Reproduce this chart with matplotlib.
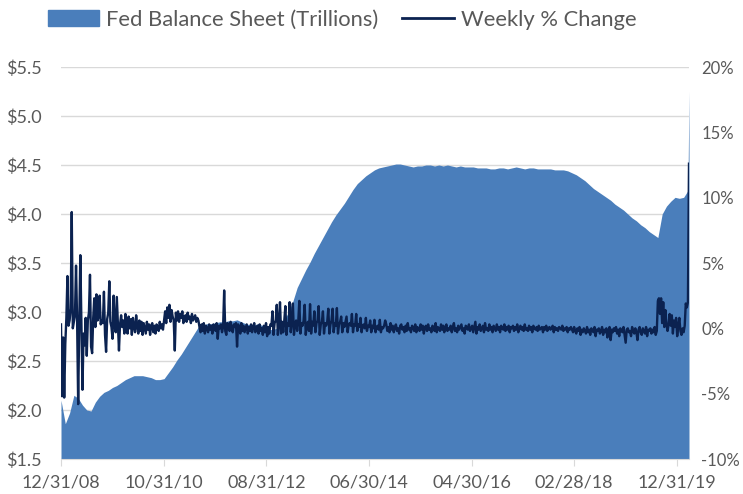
import matplotlib.pyplot as plt
import matplotlib.ticker as mtick
from matplotlib.patches import Patch
from matplotlib.lines import Line2D
import numpy as np
import pandas as pd

plt.rcParams['font.family'] = ['Lato', 'DejaVu Sans']

# Fed balance sheet, trillions, read every 4th week from 12/31/08, then the last week
balance = [2.10, 1.86, 1.97, 2.15, 2.12, 2.05, 2.00, 1.99, 2.08, 2.14, 2.18, 2.20, 2.23,
           2.25, 2.28, 2.31, 2.33, 2.35, 2.35, 2.35, 2.34, 2.33, 2.31, 2.31, 2.32, 2.38,
           2.44, 2.51, 2.57, 2.64, 2.71, 2.78, 2.85, 2.87, 2.88, 2.88, 2.89, 2.90, 2.90,
           2.91, 2.91, 2.92, 2.90, 2.88, 2.87, 2.87, 2.88, 2.86, 2.83, 2.82, 2.83, 2.86,
           2.92, 3.00, 3.11, 3.25, 3.34, 3.43, 3.51, 3.60, 3.68, 3.76, 3.84, 3.92, 3.99,
           4.05, 4.11, 4.18, 4.25, 4.31, 4.35, 4.39, 4.42, 4.45, 4.47, 4.48, 4.49, 4.50,
           4.51, 4.51, 4.50, 4.49, 4.48, 4.49, 4.49, 4.50, 4.50, 4.49, 4.50, 4.49, 4.50,
           4.49, 4.48, 4.49, 4.48, 4.48, 4.48, 4.47, 4.47, 4.47, 4.46, 4.46, 4.47, 4.47,
           4.46, 4.47, 4.48, 4.47, 4.46, 4.47, 4.47, 4.46, 4.46, 4.46, 4.46, 4.45, 4.45,
           4.45, 4.44, 4.42, 4.40, 4.37, 4.34, 4.30, 4.26, 4.23, 4.20, 4.17, 4.14, 4.10,
           4.07, 4.04, 4.00, 3.96, 3.93, 3.89, 3.86, 3.82, 3.79, 3.76, 4.00, 4.08, 4.13,
           4.17, 4.16, 4.17, 4.24,
           5.25]

# weekly % change, one value per week
chg_2009 = [0.3, -5.2, -0.7, -5.3, -1.2, 0.8, 4.0, 0.2, 0.6, 1.5,
            8.9, 0.0, 0.5, 1.0, 4.8, 0.6, -5.8, 0.4, 5.6, 0.3,
            -4.7, -0.4, -1.3, 0.8, -2.1, 0.6, 1.2, 4.1, -1.4, -1.9,
            0.8, 2.3, 0.1, 2.6, 0.6, 0.9, 2.5, 0.3, 0.6, 0.4,
            2.8, -0.5, -1.8, 0.7, 1.2, 3.6, 0.5, 0.1, -0.8, 2.5,
            0.2, -0.3, 2.4, 0.4, -1.7, 0.3, 1.0, 0.1, 0.6, -0.4,
            1.1]
chg_2010 = [0.2, -0.4, 0.9, 0.0, 0.7, -0.5, 0.8, 0.1, -0.3, 1.0,
            0.2, -0.4, 0.6, -0.2, 0.5, -0.5, 0.4, 0.0, -0.4, 0.5,
            -0.1, 0.3, -0.5, 0.2, 0.4, -0.3, 0.2, -0.4, 0.3, 0.1,
            -0.2, 0.5, 0.0, 0.3, -0.1]
chg_qe2 = [0.6, 1.3, 0.4, 1.6, 0.8, 1.8, 0.5, 1.4, 0.9, 0.6,
           -1.7, 1.2, 0.6, 1.3, 0.5, 1.1, 0.8, 1.3, 0.4, 0.9,
           1.0, 0.5, 1.2, 0.7, 0.9, 0.4, 1.1, 0.6, 0.8, 1.0,
           0.5, 0.8, 0.6]
chg_2011_12 = [0.1, -0.3, 0.3, -0.2, 0.4, -0.4, 0.2, 0.0, -0.3, 0.3,
               -0.1, 0.2, -0.4, 0.3, 0.0, -0.2, 0.4, -0.8, 0.2, 0.0,
               0.3, -0.3, 0.1, 2.9, -0.2, -0.5, 0.4, 0.3, -0.2, 0.5,
               0.0, -0.3, 0.3, 0.1, 0.4, -1.4, 0.3, 0.1, -0.4, 0.4,
               -0.2, 0.2, -0.3, 0.0, 0.3, -0.4, 0.1, -0.2, 0.3, -0.3,
               0.1, 0.4, -0.3, 0.0, 0.2, -0.4, 0.3, -0.2, 0.0, -0.5,
               0.2, -0.3, 0.4, -0.6, 0.1, -0.4, 0.3]
chg_qe3 = [0.2, 1.3, -0.5, 0.4, 0.6, 1.8, -0.5, 0.3, 2.0, -0.4,
           0.5, -0.3, 0.6, 1.7, -0.5, 0.4, 0.2, 2.0, -0.3, 0.5,
           1.9, -0.5, 0.3, 0.6, -0.2, 0.5, 2.1, -0.4, 0.4, 0.2,
           0.6, 1.8, -0.5, 0.3, 0.5, -0.2, 1.85, -0.4, 0.5, 0.2,
           1.3, -0.3, 0.4, 0.6, 1.7, -0.5, 0.3, 0.5, 1.3, -0.4,
           0.4, 0.2, 0.5, 1.5, -0.4, 0.3, 0.6, 1.5, -0.3, 0.4,
           0.2, 1.55, -0.4, 0.3, 0.5, 0.9, -0.3, 0.4, 0.1, 0.5,
           0.9, -0.3, 0.3, 0.4, 0.2, 1.1, -0.3, 0.3, 0.2, 1.1,
           -0.2, 0.3, 0.1, 0.8, -0.3, 0.2, 0.3, 0.0, 0.8, -0.2,
           0.2, 0.1, 0.6, -0.3, 0.2, 0.0, 0.65, -0.3, 0.1, 0.2,
           -0.1, 0.65, -0.3, 0.1, 0.0, 0.2, 0.6]
chg_flat = [0.3, -0.2, 0.1, -0.3, 0.4, -0.1, 0.2, -0.3, 0.1, 0.3,
            -0.2, 0.0, -0.4, 0.2, 0.3, -0.1, 0.1, -0.3, 0.2, -0.2,
            0.4, -0.1, 0.0, -0.3, 0.2, 0.1, -0.2, 0.3, -0.3, 0.1,
            0.0, -0.2, 0.3, -0.1, 0.2, -0.4, 0.1, 0.2,
            -0.2, 0.3, -0.1, 0.0, -0.3, 0.2, 0.1, -0.2, 0.4, -0.3,
            0.1, 0.0, -0.2, 0.3, -0.1, 0.2, -0.3, 0.1, 0.3, -0.2,
            0.0, -0.1, 0.2, -0.3, 0.1, 0.4, -0.2, 0.0, -0.3, 0.2,
            -0.1, 0.1, 0.3, -0.2, 0.0, -0.4, 0.2, 0.1, -0.1, 0.3,
            -0.2, 0.0, 0.2, -0.3, 0.1, 0.5, -0.4, 0.1, -0.1, 0.3,
            -0.2, 0.0, 0.2, -0.3, 0.4, -0.1, 0.0, -0.2, 0.3, -0.1,
            0.1, -0.3, 0.2, 0.0, -0.2, 0.3, -0.1, 0.1, -0.3, 0.2,
            0.0, -0.1, 0.3, -0.2, 0.1, -0.1, 0.2, -0.3, 0.1, 0.0,
            0.2, -0.2, 0.1, -0.1, 0.3, -0.3, 0.0, 0.2, -0.1, 0.1,
            -0.2, 0.3, -0.1, 0.0, -0.2, 0.2, -0.1, 0.1, -0.3, 0.2,
            0.0, -0.1, 0.1, -0.2, 0.2, -0.1, 0.0, 0.1, -0.3, 0.1,
            -0.1, 0.2, -0.2, 0.0, 0.1, -0.1, 0.0, 0.2, -0.3, 0.1,
            -0.1, 0.0, -0.2, 0.1, 0.0, -0.1, 0.2, -0.2, 0.0, -0.1,
            0.1, -0.3, 0.0, -0.1, 0.1]
chg_runoff = [-0.1, -0.3, 0.1, -0.2, -0.4, 0.0, -0.2, 0.1, -0.5, -0.1,
              -0.3, 0.0, -0.2, -0.4, 0.1, -0.3, -0.1, -0.5, 0.0, -0.2,
              -0.3, 0.1, -0.6, -0.1, -0.2, 0.0, -0.4, -0.2, 0.1, -0.5,
              -0.1, -0.3, 0.0, -0.7, -0.2, 0.1, -0.9, -0.1, -0.3, 0.0,
              -0.2, 0.1, -0.4, -0.1, -0.6, 0.0, -0.2, -0.3, 0.1, -0.5,
              -1.1, -0.1, 0.0, -0.3, -0.2, -0.6, 0.1, -0.2, -0.4, 0.0,
              -0.3, -0.9, -0.1, 0.1, -0.3, -0.5, 0.0, -0.2, -0.4, 0.1,
              -0.6, -0.1, -0.2, 0.0, -0.4, -0.1, -0.3, 0.1, -0.5, -0.2]
chg_2019_20 = [2.1, 2.3, 1.1, 2.3, 0.4, 2.0, 0.1, 1.4, 0.3, -0.2,
               0.3, 1.1, 0.2, 1.0, -0.4, 0.6, 0.1, 0.8, -0.6, 0.2,
               0.8, -0.2, -0.5, 0.0, -0.3, 0.2, 1.9, 1.6, 2.0, 12.6]

chg = (chg_2009 + chg_2010 + chg_qe2 + chg_2011_12 + chg_qe3 +
       chg_flat + chg_runoff + chg_2019_20)

tick_labels = ['12/31/08', '10/31/10', '08/31/12', '06/30/14',
               '04/30/16', '02/28/18', '12/31/19']

weeks = pd.date_range('2008-12-31', periods=len(chg), freq='7D')
bal_dates = list(weeks[:-1:4]) + [weeks[-1]]
tick_dates = pd.to_datetime(tick_labels, format='%m/%d/%y')

blue = '#4a7ebb'
navy = '#0b2250'
grey = '#595959'

fig = plt.figure(figsize=(7.43, 4.94), dpi=100)
ax = fig.add_axes([61/743, 1-459/494, (689-61)/743, (459-67)/494])

ax.fill_between(bal_dates, balance, 1.5, color=blue, lw=0)
ax.set_ylim(1.5, 5.5)
ax.set_yticks(np.arange(1.5, 5.51, 0.5))
ax.yaxis.set_major_formatter(mtick.FuncFormatter(lambda v, p: '${:.1f}'.format(v)))
ax.set_xlim(weeks[0], weeks[-1])
ax.set_xticks(tick_dates)
ax.set_xticklabels(tick_labels)
ax.grid(axis='y', color='#d9d9d9', lw=1)
ax.set_axisbelow(True)
for s in ['top', 'left', 'right']:
    ax.spines[s].set_visible(False)
ax.spines['bottom'].set_color('#d9d9d9')
ax.tick_params(axis='y', length=0, pad=14, labelcolor=grey, labelsize=13)
ax.tick_params(axis='x', length=5, color='#d9d9d9', pad=6, labelcolor=grey, labelsize=13)

ax2 = ax.twinx()
ax2.plot(weeks, chg, color=navy, lw=1.7)
ax2.set_ylim(-10, 20)
ax2.set_yticks(np.arange(-10, 21, 5))
ax2.yaxis.set_major_formatter(mtick.FuncFormatter(lambda v, p: '{:d}%'.format(int(v))))
for s in ax2.spines.values():
    s.set_visible(False)
ax2.tick_params(axis='y', length=0, pad=9, labelcolor=grey, labelsize=12)

handles = [Patch(color=blue), Line2D([], [], color=navy, lw=2)]
fig.legend(handles, ['Fed Balance Sheet (Trillions)', 'Weekly % Change'],
           loc='center', bbox_to_anchor=(342/743, 1-20/494), ncol=2, frameon=False,
           fontsize=15.8, handlelength=2.33, handleheight=0.75, handletextpad=0.32,
           columnspacing=1.1, labelcolor=grey)

fig.savefig('out.png', dpi=100)
